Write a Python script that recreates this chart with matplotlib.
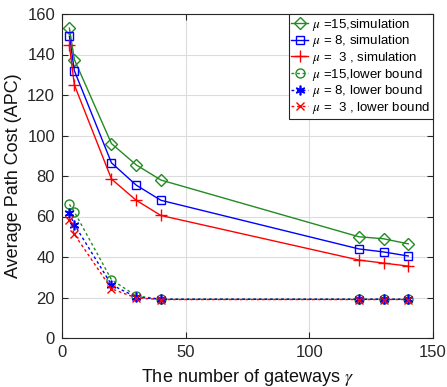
import matplotlib
matplotlib.use("Agg")
import matplotlib.pyplot as plt

plt.rcParams['font.family'] = ['Liberation Sans', 'DejaVu Sans']
plt.rcParams['mathtext.fontset'] = 'stix'

gateways = [3, 5, 20, 30, 40, 120, 130, 140]
sim_mu15 = [153, 137.5, 96, 85.5, 78, 50, 49, 46.5]
sim_mu8 = [149, 132, 86.5, 75.5, 68, 44, 42.5, 40.5]
sim_mu3 = [144.5, 125, 78.5, 68, 60.5, 38.5, 37, 35.5]
lb_mu15 = [66, 62.3, 28.8, 20.8, 19.2, 19.2, 19.2, 19.2]
lb_mu8 = [61.6, 56, 26.3, 20.2, 19.1, 19.1, 19.1, 19.1]
lb_mu3 = [58.3, 51.2, 24.3, 19.8, 19.0, 19.0, 19.0, 19.0]

labels = [r'$\mu$ =15,simulation', r'$\mu$ = 8, simulation', r'$\mu$ =  3 , simulation',
          r'$\mu$ =15,lower bound', r'$\mu$ = 8, lower bound', r'$\mu$ =  3 , lower bound']

green = '#228B22'
fig = plt.figure(figsize=(4.47, 3.87), dpi=100)
ax = fig.add_axes([62/447, 1-338/387, (433-62)/447, (338-14)/387])

ax.plot(gateways, sim_mu15, '-', color=green, marker='D', mfc='none', ms=6, lw=1, label=labels[0])
ax.plot(gateways, sim_mu8, '-', color='b', marker='s', mfc='none', ms=6, lw=1, label=labels[1])
ax.plot(gateways, sim_mu3, '-', color='r', marker='+', ms=8, mew=1, lw=1, label=labels[2])
ds = (0, (2, 2))
ax.plot(gateways, lb_mu15, linestyle=ds, color=green, marker='o', mfc='none', ms=6.5, lw=1, label=labels[3])
ax.plot(gateways, lb_mu8, linestyle=ds, color='b', marker=(6, 2, 0), ms=7, mew=1.2, lw=1, label=labels[4])
ax.plot(gateways, lb_mu3, linestyle=ds, color='r', marker='x', ms=6, mew=1, lw=1, label=labels[5])

ax.set_xlim(0, 150)
ax.set_ylim(0, 160)
ax.set_xticks([0, 50, 100, 150])
ax.set_yticks(range(0, 161, 20))
ax.grid(True, color='#dcdcdc', lw=0.8)
ax.set_axisbelow(True)
ax.tick_params(direction='in', top=True, right=True, labelsize=12, colors='#262626', length=4, pad=5)
for s in ax.spines.values():
    s.set_color('#262626')
    s.set_linewidth(0.8)
ax.set_xlabel(r'The number of gateways $\gamma$', fontsize=13, color='#111111', labelpad=5)
ax.set_ylabel('Average Path Cost (APC)', fontsize=13, color='#111111', labelpad=4)

leg = ax.legend(loc='upper right', fontsize=9.5, handlelength=1.3, handletextpad=0.3,
                borderpad=0.2, labelspacing=0.05, borderaxespad=0.0, fancybox=False,
                edgecolor='#262626', framealpha=1)
leg.get_frame().set_linewidth(0.8)

fig.savefig('out.png', dpi=100)
